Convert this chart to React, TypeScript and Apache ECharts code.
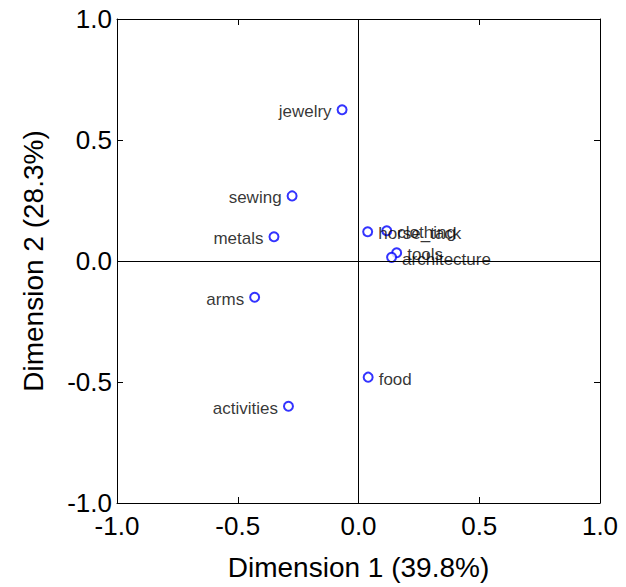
import React, { useEffect, useRef } from "react";
import * as echarts from "echarts";

const categories = [
  "jewelry",
  "sewing",
  "metals",
  "arms",
  "activities",
  "food",
  "horse_tack",
  "clothing",
  "tools",
  "architecture",
];
const dim1 = [-0.068, -0.275, -0.35, -0.43, -0.29, 0.04, 0.038, 0.117, 0.158, 0.137];
const dim2 = [0.625, 0.269, 0.1, -0.15, -0.6, -0.48, 0.121, 0.125, 0.034, 0.015];
const ticks = [-1.0, -0.5, 0.0, 0.5, 1.0];
const xTitle = "Dimension 1 (39.8%)";
const yTitle = "Dimension 2 (28.3%)";

const FONT = "'Liberation Sans', Arial, sans-serif";

export default function App() {
  const ref = useRef<HTMLDivElement>(null);
  useEffect(() => {
    document.body.style.margin = "0";
    if (!ref.current) return;
    const chart = echarts.init(ref.current, null, { renderer: "svg" });
    const axisCommon = {
      type: "value" as const,
      min: ticks[0],
      max: ticks[ticks.length - 1],
      interval: 0.5,
      axisLine: { show: true, onZero: false, lineStyle: { color: "#000", width: 1 } },
      axisTick: { show: true, inside: true, length: 6, lineStyle: { color: "#000", width: 1 } },
      splitLine: { show: false },
    };
    chart.setOption({
      animation: false,
      textStyle: { fontFamily: FONT },
      grid: { left: 117, right: 26, top: 19, bottom: 84 },
      xAxis: [
        {
          ...axisCommon,
          position: "bottom",
          name: xTitle,
          nameLocation: "middle",
          nameGap: 50,
          nameTextStyle: { fontSize: 28, color: "#000", fontFamily: FONT },
          axisLabel: {
            fontSize: 26,
            color: "#000",
            margin: 10,
            fontFamily: FONT,
            formatter: (v: number) => v.toFixed(1),
          },
        },
        {
          ...axisCommon,
          position: "top",
          axisLabel: { show: false },
        },
      ],
      yAxis: [
        {
          ...axisCommon,
          position: "left",
          name: yTitle,
          nameLocation: "middle",
          nameGap: 70,
          nameTextStyle: { fontSize: 28, color: "#000", fontFamily: FONT },
          axisLabel: {
            fontSize: 26,
            color: "#000",
            margin: 5,
            fontFamily: FONT,
            formatter: (v: number) => v.toFixed(1),
          },
        },
        {
          ...axisCommon,
          position: "right",
          axisLabel: { show: false },
        },
      ],
      series: [
        {
          type: "scatter",
          xAxisIndex: 0,
          yAxisIndex: 0,
          symbol: "emptyCircle",
          symbolSize: 9,
          itemStyle: { color: "#0000ff", borderWidth: 1 },
          data: categories.map((c, i) => ({
            name: c,
            value: [dim1[i], dim2[i]],
            label: {
              show: true,
              position: dim1[i] < 0 ? "left" : "right",
              distance: 5,
              offset: [0, 2],
              formatter: c,
              fontSize: 17,
              color: "#000",
              fontFamily: FONT,
            },
          })),
          markLine: {
            silent: true,
            symbol: "none",
            label: { show: false },
            lineStyle: { color: "#000", width: 1, type: "solid" },
            data: [{ xAxis: 0 }, { yAxis: 0 }],
          },
        },
      ],
    });
    return () => chart.dispose();
  }, []);
  return <div ref={ref} style={{ width: 626, height: 587 }} />;
}
